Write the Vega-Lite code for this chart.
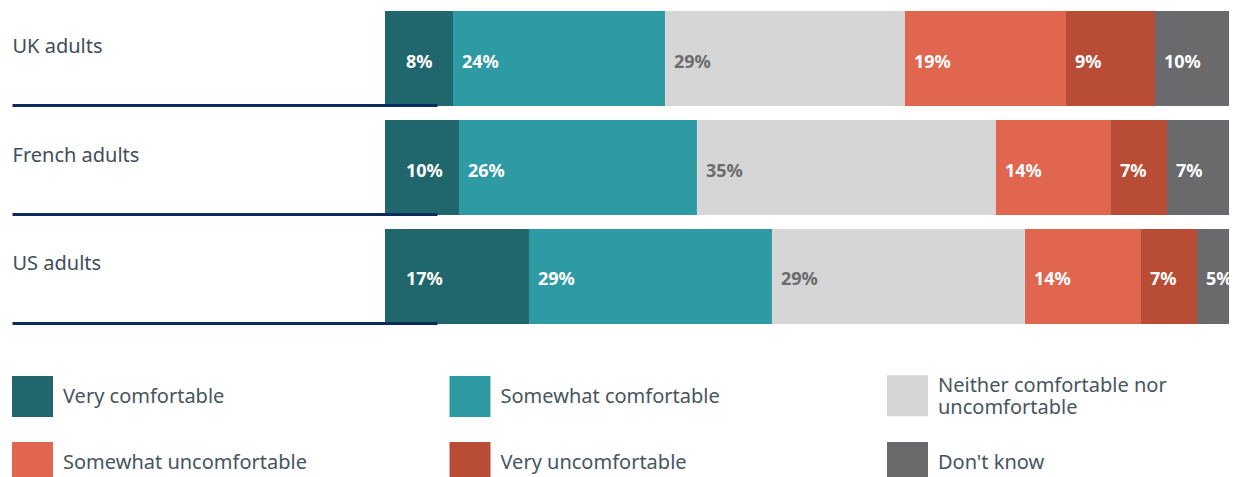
{
  "$schema": "https://vega.github.io/schema/vega-lite/v6.json",
  "autosize": "none",
  "padding": {"left": 385, "top": 11, "right": 5, "bottom": 153},
  "width": 844,
  "height": 313,
  "background": "white",
  "config": {"view": {"stroke": null}},
  "data": {
    "values": [
      {"group": "UK adults", "response": "Very comfortable", "share": 8.06, "label": "8%"},
      {"group": "UK adults", "response": "Somewhat comfortable", "share": 25.12, "label": "24%"},
      {"group": "UK adults", "response": "Neither comfortable nor uncomfortable", "share": 28.44, "label": "29%"},
      {"group": "UK adults", "response": "Somewhat uncomfortable", "share": 19.08, "label": "19%"},
      {"group": "UK adults", "response": "Very uncomfortable", "share": 10.55, "label": "9%"},
      {"group": "UK adults", "response": "Don't know", "share": 8.77, "label": "10%"},
      {"group": "French adults", "response": "Very comfortable", "share": 8.77, "label": "10%"},
      {"group": "French adults", "response": "Somewhat comfortable", "share": 28.2, "label": "26%"},
      {"group": "French adults", "response": "Neither comfortable nor uncomfortable", "share": 35.43, "label": "35%"},
      {"group": "French adults", "response": "Somewhat uncomfortable", "share": 13.63, "label": "14%"},
      {"group": "French adults", "response": "Very uncomfortable", "share": 6.64, "label": "7%"},
      {"group": "French adults", "response": "Don't know", "share": 7.35, "label": "7%"},
      {"group": "US adults", "response": "Very comfortable", "share": 17.06, "label": "17%"},
      {"group": "US adults", "response": "Somewhat comfortable", "share": 28.79, "label": "29%"},
      {"group": "US adults", "response": "Neither comfortable nor uncomfortable", "share": 29.98, "label": "29%"},
      {"group": "US adults", "response": "Somewhat uncomfortable", "share": 13.74, "label": "14%"},
      {"group": "US adults", "response": "Very uncomfortable", "share": 6.64, "label": "7%"},
      {"group": "US adults", "response": "Don't know", "share": 3.79, "label": "5%"}
    ]
  },
  "transform": [
    {"stack": "share", "groupby": ["group"], "offset": "normalize", "as": ["x0", "x1"]}
  ],
  "encoding": {
    "y": {
      "field": "group",
      "type": "nominal",
      "sort": null,
      "scale": {"paddingInner": 0.128, "paddingOuter": 0},
      "axis": {
        "title": null,
        "domain": false,
        "orient": "left",
        "offset": -52,
        "ticks": true,
        "tickSize": 425,
        "tickWidth": 3,
        "tickColor": "#0b2d5e",
        "bandPosition": 1,
        "tickOffset": -1,
        "labelAlign": "left",
        "labelBaseline": "middle",
        "labelPadding": 0,
        "labelOffset": -11.5,
        "labelFontSize": 20,
        "labelFont": "Noto Sans",
        "labelColor": "#3e4e59",
        "labelLimit": 0,
        "zindex": 1
      }
    }
  },
  "layer": [
    {
      "mark": {"type": "bar", "stroke": null},
      "encoding": {
        "x": {"field": "x0", "type": "quantitative", "scale": {"domain": [0, 1], "nice": false, "zero": false}, "axis": null},
        "x2": {"field": "x1"},
        "color": {
          "field": "response",
          "type": "nominal",
          "sort": null,
          "scale": {
            "domain": ["Very comfortable", "Somewhat comfortable", "Neither comfortable nor uncomfortable", "Somewhat uncomfortable", "Very uncomfortable", "Don't know"],
            "range": ["#20666d", "#2e9aa4", "#d6d6d6", "#e06650", "#b94c34", "#6a6a6c"]
          },
          "legend": {
            "title": null,
            "orient": "none",
            "legendX": -373,
            "legendY": 364,
            "direction": "horizontal",
            "columns": 3,
            "gridAlign": "all",
            "columnPadding": 142.5,
            "rowPadding": 24,
            "padding": 0,
            "symbolType": "square",
            "symbolSize": 1681,
            "symbolStrokeWidth": 0,
            "symbolOpacity": 1,
            "labelFont": "Noto Sans",
            "labelFontSize": 20,
            "labelColor": "#46555e",
            "labelOffset": 10,
            "labelLimit": 0,
            "labelBaseline": {"expr": "datum.label == 'Neither comfortable nor uncomfortable' ? 'bottom' : 'middle'"},
            "labelExpr": "datum.label == 'Neither comfortable nor uncomfortable' ? ['Neither comfortable nor', 'uncomfortable'] : datum.label"
          }
        }
      }
    },
    {
      "transform": [{"filter": "datum.response == 'Very comfortable'"}],
      "mark": {"type": "text", "align": "left", "baseline": "middle", "dx": 21, "dy": 4, "font": "Noto Sans", "fontWeight": "bold", "fontSize": 18, "color": "white"},
      "encoding": {
        "x": {"field": "x0", "type": "quantitative"},
        "text": {"field": "label"}
      }
    },
    {
      "transform": [{"filter": "datum.response != 'Very comfortable'"}],
      "mark": {"type": "text", "align": "left", "baseline": "middle", "dx": 9, "dy": 4, "font": "Noto Sans", "fontWeight": "bold", "fontSize": 18},
      "encoding": {
        "x": {"field": "x0", "type": "quantitative"},
        "text": {"field": "label"},
        "color": {
          "condition": {"test": "datum.response == 'Neither comfortable nor uncomfortable'", "value": "#6b6b6b"},
          "value": "white"
        }
      }
    }
  ]
}
